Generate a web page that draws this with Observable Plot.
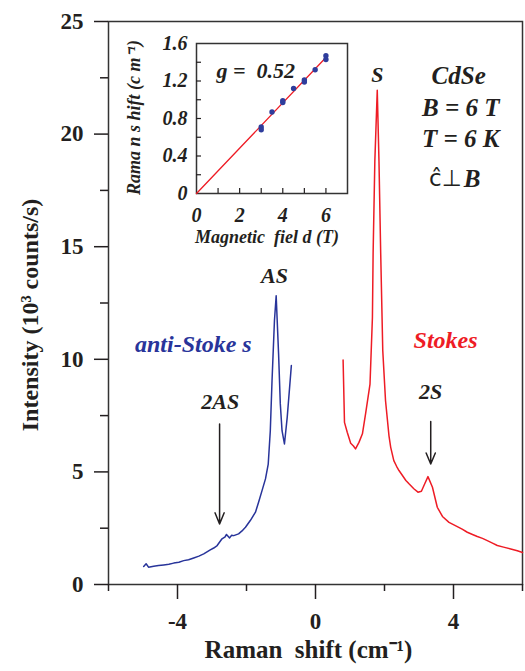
<!DOCTYPE html>
<html><head><meta charset="utf-8">
<script src="https://cdn.jsdelivr.net/npm/d3@7"></script>
<script src="https://cdn.jsdelivr.net/npm/@observablehq/plot@0.6"></script>
<style>
body{margin:0;background:#fff;}
#wrap{position:relative;width:525px;height:671px;}
#wrap svg{position:absolute;left:0;top:0;}
</style></head><body><div id="wrap"></div>
<script>
// ---- main spectrum data (Raman shift in cm^-1, intensity in 10^3 counts/s)
const antiStokesShift = [-4.98,-4.91,-4.84,-4.69,-4.55,-4.40,-4.25,-4.11,-3.96,-3.82,-3.68,-3.53,-3.38,-3.24,-3.05,-2.95,-2.85,-2.71,-2.62,-2.58,-2.49,-2.43,-2.37,-2.23,-2.13,-2.03,-1.89,-1.74,-1.65,-1.55,-1.45,-1.37,-1.31,-1.26,-1.19,-1.14,-1.07,-1.02,-0.97,-0.90,-0.82,-0.70];
const antiStokesIntensity = [0.80,0.92,0.77,0.81,0.84,0.87,0.90,0.95,0.99,1.06,1.10,1.18,1.26,1.36,1.54,1.62,1.73,2.03,2.12,2.22,2.07,2.19,2.17,2.25,2.38,2.54,2.84,3.21,3.65,4.17,4.69,5.35,6.83,9.05,11.71,12.82,10.24,8.02,6.83,6.24,7.42,9.72];
const stokesShift = [0.80,0.84,0.92,1.02,1.10,1.16,1.26,1.36,1.45,1.58,1.65,1.67,1.72,1.79,1.84,1.89,1.95,2.03,2.13,2.18,2.27,2.35,2.42,2.52,2.62,2.71,2.85,2.97,3.07,3.16,3.26,3.39,3.53,3.68,3.87,4.11,4.25,4.40,4.55,4.69,4.84,4.98,5.13,5.27,5.45,5.66,5.85,6.0];
const stokesIntensity = [9.97,7.20,6.76,6.27,6.15,6.02,6.31,6.69,7.57,8.90,11.86,14.70,18.80,21.95,18.80,14.70,10.38,8.16,6.60,6.09,5.50,5.25,5.06,4.84,4.62,4.47,4.25,4.10,4.14,4.45,4.79,4.32,3.43,3.02,2.76,2.57,2.46,2.32,2.22,2.13,2.05,1.95,1.84,1.73,1.66,1.58,1.50,1.42];
const yTicks = [0,5,10,15,20,25];
const yMinorTicks = [2.5,7.5,12.5,17.5,22.5];
const xTicks = [-4,0,4];
const xMinorTicks = [-6,-2,2,6];
// 2AS / 2S markers (data coordinates)
const arrowShift = [-2.78, 3.34];
const arrowFrom = [7.13, 7.24];
const arrowTo = [2.69, 5.35];

// ---- inset data (magnetic field in T, Raman shift in cm^-1)
const insetField = [3,3,3.5,4,4,4.5,5,5,5.5,6,6];
const insetShift = [0.71,0.68,0.87,0.99,0.97,1.12,1.21,1.19,1.32,1.47,1.43];
const fitField = [0,6];
const fitShift = [0,1.45];
const insetXTicks = [0,2,4,6];
const insetXMinor = [1,2,3,4,5,6];
const insetYTicks = [0,0.4,0.8,1.2,1.6];
const insetYMinor = [0.2,0.4,0.6,0.8,1.0,1.2,1.4];

const serif = "'Liberation Serif','Times New Roman',serif";
const ink = "#231f20";
const blue = "#28349a";
const red = "#ee1c25";

const arrows = arrowShift.map((x,i)=>({x, y1:arrowFrom[i], y2:arrowTo[i]}));
const b = {fontFamily:serif, fontWeight:"bold"};
const bi = {fontFamily:serif, fontWeight:"bold", fontStyle:"italic"};

const main = Plot.plot({
  width:525, height:671,
  marginLeft:108, marginRight:3, marginTop:21, marginBottom:87,
  x:{domain:[-6,6]}, y:{domain:[0,25]},
  style:{fontFamily:serif, background:"transparent", color:ink, overflow:"visible"},
  marks:[
    Plot.frame({stroke:"#333", strokeWidth:1.5}),
    Plot.axisY(yTicks, {tickSize:14, tickPadding:11, fontSize:23, ...b, label:null, strokeWidth:1.5}),
    Plot.axisY(yMinorTicks, {tickSize:8, tickFormat:()=>"", label:null, strokeWidth:1.5}),
    Plot.axisX(xTicks, {tickSize:15, tickPadding:13, fontSize:23, ...b, label:null, tickFormat:d=>String(d), strokeWidth:1.5}),
    Plot.axisX(xMinorTicks, {tickSize:7, tickFormat:()=>"", label:null, strokeWidth:1.5}),
    Plot.text(["Intensity (10\u00b3 counts/s)"], {frameAnchor:"left", textAnchor:"middle", rotate:-90, dx:-78, dy:12, fontSize:24, ...b, fill:ink}),
    Plot.text(["Raman\u00a0 shift (cm\u207b\u00b9)"], {frameAnchor:"bottom", dy:73, dx:-7, fontSize:25, ...b, fill:ink}),
    Plot.line(antiStokesShift, {x:d=>d, y:(d,i)=>antiStokesIntensity[i], stroke:blue, strokeWidth:1.5}),
    Plot.line(stokesShift, {x:d=>d, y:(d,i)=>stokesIntensity[i], stroke:red, strokeWidth:1.5}),
    Plot.arrow(arrows, {x:"x", y1:"y1", y2:"y2", stroke:ink, strokeWidth:1.5, headLength:12, headAngle:45}),
    Plot.text(["AS"], {x:-1.19, y:13.71, fontSize:22, ...bi, fill:ink}),
    Plot.text(["S"], {x:1.79, y:22.63, fontSize:22, ...bi, fill:ink}),
    Plot.text(["2AS"], {x:-2.76, y:8.09, fontSize:22, ...bi, fill:ink}),
    Plot.text(["2S"], {x:3.34, y:8.53, fontSize:22, ...bi, fill:ink}),
    Plot.text(["anti-Stoke s"], {x:-3.54, y:10.65, fontSize:24, ...bi, fill:blue}),
    Plot.text(["Stokes"], {x:3.77, y:10.83, fontSize:24, ...bi, fill:red}),
    Plot.text(["CdSe"], {x:4.15, y:22.58, fontSize:25, ...bi, fill:ink}),
    Plot.text(["B = 6 T"], {x:4.21, y:21.18, fontSize:25, ...bi, fill:ink}),
    Plot.text(["T = 6 K"], {x:4.21, y:19.79, fontSize:25, ...bi, fill:ink}),
    Plot.text(["\u0109\u22a5"], {x:4.24, y:18.01, textAnchor:"end", fontSize:23, fontFamily:"'DejaVu Sans',sans-serif", fill:ink}),
    Plot.text(["B"], {x:4.30, y:18.01, textAnchor:"start", fontSize:25, ...bi, fill:ink})
  ]
});

const inset = Plot.plot({
  width:525, height:671,
  marginLeft:196, marginRight:178, marginTop:43, marginBottom:478,
  x:{domain:[0,7]}, y:{domain:[0,1.6]},
  style:{fontFamily:serif, background:"transparent", color:ink, overflow:"visible"},
  marks:[
    Plot.frame({stroke:"#333", strokeWidth:1.5, fill:"white"}),
    Plot.axisX(insetXMinor, {tickSize:-5, tickFormat:()=>"", label:null, strokeWidth:1.2}),
    Plot.axisX(insetXTicks, {tickSize:0, tickPadding:14, fontSize:20, ...bi, label:null}),
    Plot.axisY(insetYMinor, {tickSize:-5, tickFormat:()=>"", label:null, strokeWidth:1.2}),
    Plot.axisY(insetYTicks, {tickSize:0, tickPadding:9, fontSize:20, ...bi, label:null, tickFormat:d=>d===0?"0":d.toFixed(1)}),
    Plot.text(["Rama n s hift (c m\u207b\u00b9)"], {frameAnchor:"left", textAnchor:"middle", rotate:-90, dx:-62, dy:-1, fontSize:18, ...bi, fill:ink}),
    Plot.text(["Magnetic\u00a0 fiel d (T)"], {frameAnchor:"bottom", dy:49, dx:-5, fontSize:18, ...bi, fill:ink}),
    Plot.text(["g =\u00a0 0.52"], {frameAnchor:"top-left", dx:20, dy:27, textAnchor:"start", lineAnchor:"middle", fontSize:22, ...bi, fill:ink}),
    Plot.line(fitField, {x:d=>d, y:(d,i)=>fitShift[i], stroke:red, strokeWidth:1.3}),
    Plot.dot(insetField, {x:d=>d, y:(d,i)=>insetShift[i], r:2.7, fill:"#2e3d9c", stroke:"none"})
  ]
});

const wrap = document.getElementById("wrap");
wrap.appendChild(main);
wrap.appendChild(inset);
</script>
</body></html>
